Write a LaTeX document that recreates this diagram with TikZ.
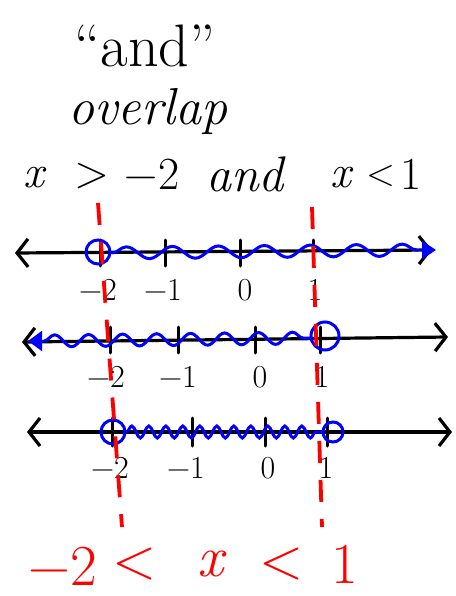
\documentclass[tikz,border=0pt]{standalone}
\usepackage{fontspec}
\usetikzlibrary{arrows.meta,decorations.pathmorphing}
\begin{document}
\begin{tikzpicture}[x=1pt,y=-1pt,
  axisline/.style={line width=3.2pt, black, line cap=round,
    {Straight Barb[length=11pt,width=28pt,line width=3.2pt]}-{Straight Barb[length=11pt,width=28pt,line width=3.2pt]}},
  tickmark/.style={line width=3pt, black, line cap=round},
  wavy/.style={blue, line width=3pt, decorate, decoration={snake, amplitude=#1}},
  opencirc/.style={blue, line width=3pt},
  reddash/.style={red, line width=3.8pt, dash pattern=on 22pt off 17pt},
  lbl/.style={font=\fontsize{32}{34}\selectfont, inner sep=0pt},
  title/.style={inner sep=0pt, font=\fontsize{46}{48}\selectfont},
  redtxt/.style={red, font=\fontsize{58}{60}\selectfont, inner sep=0pt}]
\useasboundingbox (0,0) rectangle (455,596);

% titles
\node[title, font=\fontsize{60}{62}\selectfont] (t1) at (145,46) {“and”};
\node[title, font=\fontsize{52}{54}\selectfont\itshape] (t2) at (148,112) {overlap};
\node[title] (t3a) at (35,178) {\textit{x}};
\node[title] (t3b) at (92,176) {>};
\node[title] (t3c) at (152,174) {−2};
\node[title, font=\fontsize{50}{52}\selectfont\itshape] (t3d) at (245,174) {and};
\node[title] (t3e) at (342,178) {\textit{x}};
\node[title, font=\fontsize{38}{40}\selectfont] (t3f) at (381,176) {<};
\node[title] (t3g) at (411,174) {1};

% line 1
\coordinate (l1a) at (15,253);
\coordinate (l1b) at (432,250);
\draw[axisline] (l1a) -- (l1b);
\foreach \x in {100,165,240,313}{
  \draw[tickmark] (\x,240) -- (\x,266);
}
\node[lbl] (l1m2) at (98,290) {−2};
\node[lbl] (l1m1) at (163,290) {−1};
\node[lbl] (l1z) at (245,290) {0};
\node[lbl] (l1p1) at (315,290) {1};
\node[opencirc, draw, circle, minimum size=24pt, inner sep=0pt] (c1) at (98,252) {};
\coordinate (w1a) at (112,253);
\coordinate (w1b) at (418,250);
\draw[wavy=6pt, decoration={segment length=46pt}] (w1a) -- (w1b);
\draw[blue, line width=2pt, -{Triangle[length=14pt,width=18pt]}] (w1b) -- (436,250);

% line 2
\coordinate (l2a) at (22,342);
\coordinate (l2b) at (448,337);
\draw[axisline] (l2a) -- (l2b);
\foreach \x in {110,178,255,320}{
  \draw[tickmark] (\x,327) -- (\x,353);
}
\node[lbl] (l2m2) at (106,377) {−2};
\node[lbl] (l2m1) at (178,377) {−1};
\node[lbl] (l2z) at (260,377) {0};
\node[lbl] (l2p1) at (322,377) {1};
\node[opencirc, draw, circle, minimum size=28pt, inner sep=0pt] (c2) at (325,336) {};
\coordinate (w2a) at (44,341);
\coordinate (w2b) at (310,338);
\draw[wavy=6pt, decoration={segment length=34pt}] (w2a) -- (w2b);
\draw[blue, line width=2pt, -{Triangle[length=14pt,width=20pt]}] (w2a) -- (28,341);

% line 3
\coordinate (l3a) at (27,432);
\coordinate (l3b) at (452,432);
\draw[axisline] (l3a) -- (l3b);
\foreach \x in {112,192,265,327}{
  \draw[tickmark] (\x,418) -- (\x,446);
}
\node[lbl] (l3m2) at (110,468) {−2};
\node[lbl] (l3m1) at (186,468) {−1};
\node[lbl] (l3z) at (268,468) {0};
\node[lbl] (l3p1) at (326,468) {1};
\node[opencirc, draw, circle, minimum size=24pt, inner sep=0pt] (c3a) at (113,432) {};
\node[opencirc, draw, circle, minimum size=20pt, inner sep=0pt] (c3b) at (333,432) {};
\draw[wavy=6pt, decoration={segment length=17pt}] (c3a.east) -- (c3b.west);

% red dashed guides
\coordinate (r1a) at (98,203);
\coordinate (r1b) at (122,527);
\coordinate (r2a) at (312,207);
\coordinate (r2b) at (322,527);
\draw[reddash] (r1a) -- (r1b);
\draw[reddash] (r2a) -- (r2b);

% red result
\node[redtxt] (b1) at (63,566) {−2};
\node[redtxt] (b2) at (135,564) {<};
\node[redtxt] (b3) at (212,564) {\textit{x}};
\node[redtxt] (b4) at (282,564) {<};
\node[redtxt] (b5) at (345,564) {1};
\end{tikzpicture}
\end{document}
